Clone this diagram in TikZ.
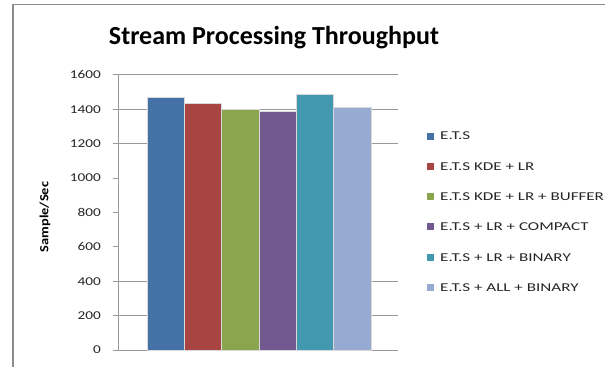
\documentclass[tikz,border=0pt]{standalone}
\usepackage{fontspec}
\setmainfont{Carlito}
\begin{document}
\begin{tikzpicture}[x=1pt,y=-1pt,
  frame/.style={draw=black!45},
  grid/.style={draw=black!40, line width=0.9pt},
  bar/.style={draw=white!85!black, line width=0.3pt},
  ticklab/.style={anchor=east, inner sep=0pt, font=\fontsize{12}{12}\selectfont\addfontfeature{FakeStretch=1.27}, text=black!85},
  legsq/.style={minimum size=7pt, inner sep=0pt, draw=none},
  legtxt/.style={anchor=west, inner sep=0pt, font=\fontsize{12}{12}\selectfont\addfontfeature{FakeStretch=1.42}, text=black!85}]
\useasboundingbox (0,0) rectangle (605,367);
\definecolor{cA}{RGB}{68,114,166}
\definecolor{cB}{RGB}{168,69,66}
\definecolor{cC}{RGB}{137,165,78}
\definecolor{cD}{RGB}{113,88,143}
\definecolor{cE}{RGB}{65,152,175}
\definecolor{cF}{RGB}{150,170,210}
% chart frame
\draw[frame, line width=2pt] (13,4) -- (13,367);
\draw[frame, line width=1pt] (12,4) -- (605,4);
% title
\node (title) at (274,38) {\fontsize{26}{26}\selectfont\bfseries Stream Processing Throughput};
% axis title
\node[rotate=90] (ylab) at (45,217) {\fontsize{12.5}{12.5}\selectfont\bfseries\addfontfeature{FakeStretch=1.15}Sample/Sec};
% gridlines, ticks and value labels
\foreach \v/\show in {0/1,200/1,400/1,600/0,800/0,1000/0,1200/1,1400/1,1600/1}{
  \pgfmathsetmacro{\yy}{350-\v*0.172}
  \ifnum\show=1 \draw[grid] (113,\yy) -- (398,\yy); \fi
  \draw[grid] (113,\yy) -- (118,\yy);
  \node[ticklab] (t\v) at (101,\yy) {\v};
}
\draw[grid] (118,74.8) -- (118,350);
% bars
\foreach \i/\v/\c in {0/1469/cA,1/1434/cB,2/1401/cC,3/1390/cD,4/1487/cE,5/1411/cF}{
  \pgfmathsetmacro{\xa}{147+\i*37.3}
  \pgfmathsetmacro{\xb}{\xa+37.3}
  \pgfmathsetmacro{\yy}{350-\v*0.172}
  \fill[\c] (\xa,350) rectangle (\xb,\yy);
  \draw[bar] (\xa,350) rectangle (\xb,\yy);
}
% legend
\foreach \i/\c/\t in {0/cA/E.T.S,1/cB/E.T.S KDE + LR,2/cC/E.T.S KDE + LR + BUFFER,3/cD/E.T.S + LR + COMPACT,4/cE/E.T.S + LR + BINARY,5/cF/E.T.S + ALL + BINARY}{
  \pgfmathsetmacro{\yy}{136+\i*30.3}
  \node[legsq, fill=\c] (sq\i) at (430.5,\yy) {};
  \node[legtxt] (lg\i) at (440,\yy) {\t};
}
\end{tikzpicture}
\end{document}
